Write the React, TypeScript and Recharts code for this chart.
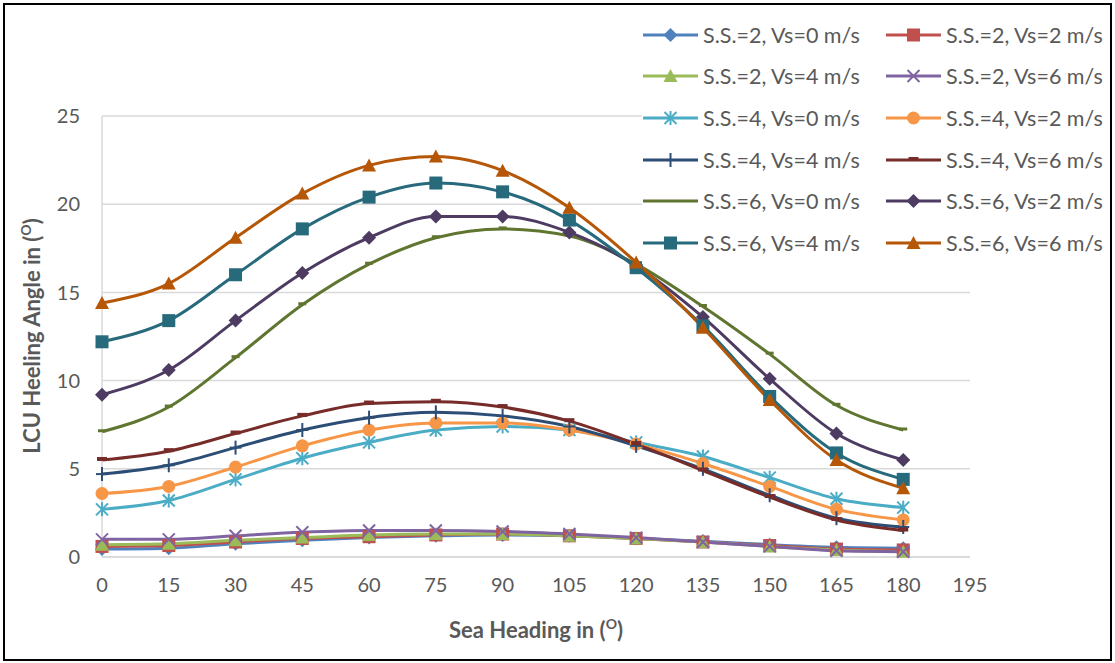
import React from 'react';
import { LineChart, Line, XAxis, YAxis, CartesianGrid, Legend } from 'recharts';

const headings = [0, 15, 30, 45, 60, 75, 90, 105, 120, 135, 150, 165, 180];
const xTicks = [0, 15, 30, 45, 60, 75, 90, 105, 120, 135, 150, 165, 180, 195];
const yTicks = [0, 5, 10, 15, 20, 25];

const ss2vs0 = [0.45, 0.5, 0.75, 0.95, 1.1, 1.2, 1.25, 1.2, 1.05, 0.9, 0.7, 0.55, 0.5];
const ss2vs2 = [0.6, 0.65, 0.85, 1.05, 1.15, 1.25, 1.3, 1.2, 1.05, 0.85, 0.65, 0.45, 0.4];
const ss2vs4 = [0.7, 0.75, 0.95, 1.1, 1.25, 1.3, 1.3, 1.2, 1.05, 0.85, 0.6, 0.4, 0.3];
const ss2vs6 = [1.0, 1.0, 1.2, 1.4, 1.5, 1.5, 1.45, 1.3, 1.1, 0.85, 0.6, 0.35, 0.3];
const ss4vs0 = [2.7, 3.2, 4.4, 5.6, 6.5, 7.2, 7.4, 7.2, 6.5, 5.7, 4.5, 3.3, 2.8];
const ss4vs2 = [3.6, 4.0, 5.1, 6.3, 7.2, 7.6, 7.6, 7.2, 6.4, 5.3, 4.0, 2.7, 2.1];
const ss4vs4 = [4.7, 5.2, 6.2, 7.2, 7.9, 8.2, 8.0, 7.4, 6.3, 5.0, 3.5, 2.2, 1.7];
const ss4vs6 = [5.5, 6.0, 7.0, 8.0, 8.7, 8.8, 8.5, 7.7, 6.4, 4.9, 3.4, 2.1, 1.5];
const ss6vs0 = [7.1, 8.5, 11.3, 14.3, 16.6, 18.1, 18.6, 18.2, 16.6, 14.2, 11.5, 8.6, 7.2];
const ss6vs2 = [9.2, 10.6, 13.4, 16.1, 18.1, 19.3, 19.3, 18.4, 16.5, 13.6, 10.1, 7.0, 5.5];
const ss6vs4 = [12.2, 13.4, 16.0, 18.6, 20.4, 21.2, 20.7, 19.1, 16.4, 13.1, 9.1, 5.9, 4.4];
const ss6vs6 = [14.4, 15.5, 18.1, 20.6, 22.2, 22.7, 21.9, 19.8, 16.7, 13.0, 8.9, 5.5, 3.9];

const seriesNames = [
  'S.S.=2, Vs=0 m/s', 'S.S.=2, Vs=2 m/s',
  'S.S.=2, Vs=4 m/s', 'S.S.=2, Vs=6 m/s',
  'S.S.=4, Vs=0 m/s', 'S.S.=4, Vs=2 m/s',
  'S.S.=4, Vs=4 m/s', 'S.S.=4, Vs=6 m/s',
  'S.S.=6, Vs=0 m/s', 'S.S.=6, Vs=2 m/s',
  'S.S.=6, Vs=4 m/s', 'S.S.=6, Vs=6 m/s',
];
const seriesValues = [ss2vs0, ss2vs2, ss2vs4, ss2vs6, ss4vs0, ss4vs2, ss4vs4, ss4vs6, ss6vs0, ss6vs2, ss6vs4, ss6vs6];

const styles = [
  { color: '#4F81BD', shape: 'diamond' },
  { color: '#C0504D', shape: 'square' },
  { color: '#9BBB59', shape: 'triangle' },
  { color: '#8064A2', shape: 'x' },
  { color: '#4BACC6', shape: 'star' },
  { color: '#F79646', shape: 'circle' },
  { color: '#2C4D75', shape: 'plus' },
  { color: '#772C2A', shape: 'dash' },
  { color: '#5F7530', shape: 'none' },
  { color: '#4D3B62', shape: 'diamond' },
  { color: '#276A7C', shape: 'square' },
  { color: '#B65708', shape: 'triangle' },
];

const data = headings.map((h, i) => {
  const row: Record<string, number> = { h };
  seriesValues.forEach((vals, k) => {
    row['s' + k] = vals[i];
  });
  return row;
});

const FONT = 'Lato, "Open Sans", sans-serif';
const GREY = '#595959';

function marker(shape: string, color: string, cx: number, cy: number, key?: any) {
  switch (shape) {
    case 'diamond':
      return <polygon key={key} points={`${cx},${cy - 7} ${cx + 7},${cy} ${cx},${cy + 7} ${cx - 7},${cy}`} fill={color} />;
    case 'square':
      return <rect key={key} x={cx - 6.5} y={cy - 6.5} width={13} height={13} fill={color} />;
    case 'triangle':
      return <polygon key={key} points={`${cx},${cy - 7} ${cx + 7},${cy + 6} ${cx - 7},${cy + 6}`} fill={color} />;
    case 'circle':
      return <circle key={key} cx={cx} cy={cy} r={6.5} fill={color} />;
    case 'x':
      return (
        <g key={key} stroke={color} strokeWidth={2}>
          <line x1={cx - 6} y1={cy - 6} x2={cx + 6} y2={cy + 6} />
          <line x1={cx - 6} y1={cy + 6} x2={cx + 6} y2={cy - 6} />
        </g>
      );
    case 'star':
      return (
        <g key={key} stroke={color} strokeWidth={2}>
          <line x1={cx - 6} y1={cy - 6} x2={cx + 6} y2={cy + 6} />
          <line x1={cx - 6} y1={cy + 6} x2={cx + 6} y2={cy - 6} />
          <line x1={cx} y1={cy - 7} x2={cx} y2={cy + 7} />
        </g>
      );
    case 'plus':
      return (
        <g key={key} stroke={color} strokeWidth={2}>
          <line x1={cx} y1={cy - 7} x2={cx} y2={cy + 7} />
          <line x1={cx - 6} y1={cy} x2={cx + 6} y2={cy} />
        </g>
      );
    case 'dash':
      return <rect key={key} x={cx - 5} y={cy - 3} width={10} height={4} fill={color} />;
    default:
      return <rect key={key} x={cx - 4} y={cy - 2.5} width={8} height={3} fill={color} />;
  }
}

function LegendBox() {
  return (
    <div
      style={{
        background: '#fff',
        display: 'grid',
        gridTemplateColumns: '243px 219px',
        fontFamily: FONT,
        fontSize: 21.5,
        color: GREY,
      }}
    >
      {seriesNames.map((name, i) => (
        <div key={name} style={{ display: 'flex', alignItems: 'center', height: 41.6, overflow: 'visible' }}>
          <svg width={57} height={20} style={{ marginRight: 4, flex: 'none' }}>
            <line x1={1} y1={10} x2={56} y2={10} stroke={styles[i].color} strokeWidth={3} />
            {styles[i].shape !== 'none' && marker(styles[i].shape, styles[i].color, 28.5, 10)}
          </svg>
          <span style={{ whiteSpace: 'nowrap' }}>{name}</span>
        </div>
      ))}
    </div>
  );
}

export default function App() {
  return (
    <div style={{ position: 'absolute', left: 0, top: 0, width: 1115, height: 663, background: '#fff' }}>
      <div style={{ position: 'absolute', left: 0, top: 0 }}>
        <LineChart
          width={1115}
          height={663}
          data={data}
          margin={{ top: 116, right: 145, left: 0, bottom: 66 }}
        >
          <CartesianGrid vertical={false} stroke="#D9D9D9" strokeWidth={1.5} />
          <XAxis
            dataKey="h"
            type="number"
            domain={[0, 195]}
            ticks={xTicks}
            interval={0}
            height={40}
            stroke="#D9D9D9"
            strokeWidth={1.5}
            tickLine={false}
            tickMargin={15}
            tick={{ fill: GREY, fontSize: 20, fontFamily: FONT }}
            label={(props: any) => {
              const vb = props.viewBox;
              return (
                <text
                  x={vb.x + vb.width / 2}
                  y={638}
                  textAnchor="middle"
                  fill={GREY}
                  fontSize={22}
                  fontWeight="bold"
                  fontFamily={FONT}
                >
                  Sea Heading in (<tspan fontSize={14} dy={-9}>O</tspan>
                  <tspan dy={9}>)</tspan>
                </text>
              );
            }}
          />
          <YAxis
            domain={[0, 25]}
            ticks={yTicks}
            width={102}
            stroke="#D9D9D9"
            strokeWidth={1.5}
            tickLine={false}
            tickSize={6}
            tickMargin={16}
            tick={{ fill: GREY, fontSize: 20, fontFamily: FONT }}
            label={() => (
              <text
                x={40}
                y={336}
                transform="rotate(-90 40 336)"
                textAnchor="middle"
                fill={GREY}
                fontSize={22}
                fontWeight="bold"
                fontFamily={FONT}
              >
                LCU Heeling Angle in (<tspan fontSize={14} dy={-9}>O</tspan>
                <tspan dy={9}>)</tspan>
              </text>
            )}
          />
          {seriesNames.map((name, k) => (
            <Line
              key={name}
              name={name}
              dataKey={'s' + k}
              type="monotone"
              stroke={styles[k].color}
              strokeWidth={3}
              isAnimationActive={false}
              dot={(p: any) => marker(styles[k].shape, styles[k].color, p.cx, p.cy, `${name}-${p.index}`)}
              activeDot={false}
            />
          ))}
          <Legend
            layout="horizontal"
            verticalAlign="middle"
            align="center"
            content={() => <LegendBox />}
            wrapperStyle={{ position: 'absolute', left: 642, top: 14, width: 462, height: 252 }}
          />
        </LineChart>
      </div>
      <div
        style={{
          position: 'absolute',
          left: 3,
          top: 3,
          width: 1105,
          height: 654,
          border: '2px solid #000',
          pointerEvents: 'none',
        }}
      />
    </div>
  );
}
